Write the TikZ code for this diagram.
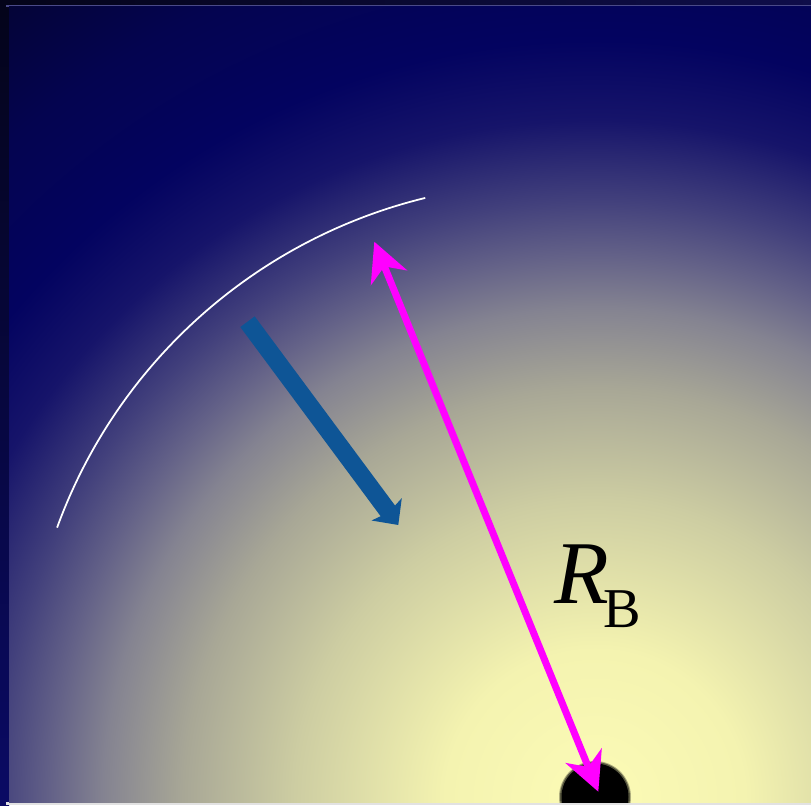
\documentclass[tikz,border=0pt]{standalone}
\usepackage{fontspec}
\setmainfont{Liberation Serif}
\usetikzlibrary{calc, arrows.meta}
\definecolor{glowA}{RGB}{252,251,182}
\definecolor{glowB}{RGB}{244,243,176}
\definecolor{glowC}{RGB}{205,205,162}
\definecolor{glowD}{RGB}{168,167,150}
\definecolor{glowE}{RGB}{132,131,145}
\definecolor{glowF}{RGB}{100,98,136}
\definecolor{glowG}{RGB}{66,64,124}
\definecolor{glowH}{RGB}{22,20,106}
\definecolor{glowI}{RGB}{3,3,96}
\definecolor{glowJ}{RGB}{4,4,80}
\definecolor{glowK}{RGB}{4,4,52}
\definecolor{flowblue}{RGB}{14,85,150}
\definecolor{radiusmag}{RGB}{255,0,255}
\definecolor{framedark}{RGB}{4,4,26}
\definecolor{framenavy}{RGB}{10,10,100}
\definecolor{framelav}{RGB}{74,74,136}
\definecolor{framelow}{RGB}{226,226,226}
\pgfdeclareradialshading{glow}{\pgfpoint{0bp}{0bp}}{color(0bp)=(glowA); color(3.75bp)=(glowB); color(7.5bp)=(glowC); color(10.3bp)=(glowD); color(12.3bp)=(glowE); color(13.6bp)=(glowF); color(15bp)=(glowG); color(17bp)=(glowH); color(19bp)=(glowI); color(22bp)=(glowJ); color(25bp)=(glowK); color(50bp)=(glowK)}
\begin{document}
\begin{tikzpicture}[x=0.02cm, y=0.02cm,
    frontarc/.style={white, line width=1pt},
    flowarrow/.style={flowblue, line width=10.2pt, -{Stealth[length=11pt, width=21pt, inset=2pt]}},
    radiusarrow/.style={radiusmag, line width=4pt, {Stealth[length=22pt, width=22pt, inset=6.8pt]}-{Stealth[length=22pt, width=22pt, inset=6.8pt]}}]
  \useasboundingbox (0,0) rectangle (811,805);
  \fill[framedark] (0,0) rectangle (811,805);
  \shade[top color=framedark, bottom color=framenavy] (0,0) rectangle (9,805);
  \shade[left color=framedark, right color=glowH!60!framedark] (9,800) rectangle (811,805);
  \fill[framelav] (6,798) rectangle (811,800);
  \fill[framelow] (6,0) rectangle (811,3);
  \coordinate (glowctr) at (595,5);
  \coordinate (hole) at (595,8);
  \coordinate (arcctr) at (549.3,98.2);
  \coordinate (flowtail) at (247.5,483.3);
  \coordinate (flowtip) at (398.3,280);
  \coordinate (rtop) at (374.3,563.3);
  \coordinate (rbottom) at (598.3,13.3);
  \begin{scope}
    \clip (9,3) rectangle (811,798);
    \shade[shading=glow] (glowctr) circle[radius=1000];
    \fill[black, opacity=0.3] (hole) circle[radius=36];
    \fill[black, opacity=0.5] (hole) circle[radius=35];
    \fill[black] (hole) circle[radius=33.5];
  \end{scope}
  \draw[frontarc] ($(arcctr)+(160:523.8)$) arc[start angle=160, end angle=103.7, radius=523.8];
  \draw[flowarrow] (flowtail) -- (flowtip);
  \draw[radiusarrow] (rtop) -- (rbottom);
  \node[anchor=base west, inner sep=0pt] (rlabel) at (554,202) {\fontsize{51}{51}\selectfont\textit{R}\kern-3pt\raisebox{-14.2pt}{\fontsize{32}{32}\selectfont B}};
\end{tikzpicture}
\end{document}
